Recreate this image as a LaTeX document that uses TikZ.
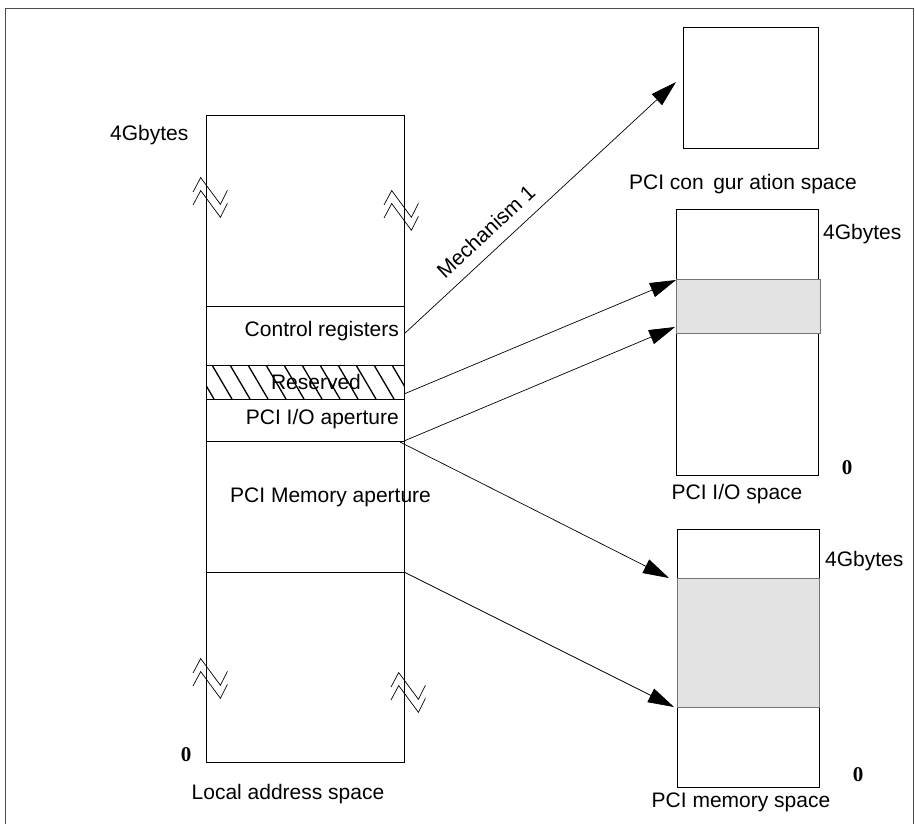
\documentclass[tikz,border=0pt]{standalone}
\usepackage{fontspec}
\setmainfont{Liberation Sans}
\newfontfamily\zerofont{Liberation Serif}
\usetikzlibrary{arrows.meta}

\begin{document}
\begin{tikzpicture}[x=1pt,y=-1pt,
  font=\fontsize{21}{25}\selectfont,
  lbl/.style={inner sep=0pt,text depth=0pt},
  zero/.style={inner sep=0pt,text depth=0pt,font=\fontsize{21}{25}\selectfont\zerofont\bfseries},
  box/.style={draw,line width=0.8pt},
  win/.style={draw=black!55,fill=black!11,line width=0.8pt},
  map/.style={line width=0.7pt,-{Triangle[length=26pt,width=15pt]}},
  brk/.style={line width=0.7pt},
]
\useasboundingbox (0,0) rectangle (915,824);
\draw[line width=0.8pt,black!70] (5,824) -- (5,8) -- (913,8) -- (913,824);

% ---------------- local address space (left) ----------------
\begin{scope}
  \clip (206,365) rectangle (404,399);
  \foreach \x in {176,194,...,410} \draw[line width=1.3pt] (\x,365) -- ++(20,34);
\end{scope}
\draw[box] (206,115) rectangle (404,762);
\draw[box] (206,306) -- (404,306) (206,365) -- (404,365) (206,399) -- (404,399)
  (206,441) -- (404,441) (206,572) -- (404,572);
\foreach \p in {(193,192),(384,205),(193,673),(391,687)}
  \foreach \d in {0,13}
    \draw[brk] \p ++(0,\d) -- ++(7.7,-14.4) -- ++(19.7,26.7) -- ++(7,-14);
\node[lbl,anchor=west] (top4g) at (110,133) {4Gbytes};
\node[lbl,anchor=east] (ctrltxt) at (399,329) {Control registers};
\node[lbl] (resvtxt) at (316,382) {Reserved};
\node[lbl,anchor=east] (iotxt) at (399,417) {PCI I/O aperture};
\node[lbl,anchor=west] (memtxt) at (230,495) {PCI Memory aperture};
\node[zero] (zero1) at (186,755) {0};
\node[lbl] (localname) at (288,792) {Local address space};

% ---------------- PCI spaces (right) ----------------
\draw[box] (683,27) rectangle (818,148);
\node[lbl] (cfgname) at (743,182) {PCI con\hspace{0.45em}gur ation space};

\draw[box] (676,209) rectangle (818,475);
\draw[win] (676,279) rectangle (820,333);
\node[lbl,anchor=west] (io4g) at (823,232) {4Gbytes};
\node[zero] (zero2) at (847,468) {0};
\node[lbl] (ioname) at (737,492) {PCI I/O space};

\draw[box] (677,529) rectangle (819,787);
\draw[win] (677,578) rectangle (819,707);
\node[lbl,anchor=west] (mem4g) at (825,559) {4Gbytes};
\node[zero] (zero3) at (858,775) {0};
\node[lbl] (memname) at (741,800) {PCI memory space};

% ---------------- mappings ----------------
\coordinate (ctrl) at (404,334);
\coordinate (resv) at (404,394);
\coordinate (ioap) at (404,441);
\coordinate (memap) at (400,442);
\coordinate (membot) at (404,572);
\coordinate (cfg) at (676,82);
\coordinate (iotop) at (676,280);
\coordinate (iobot) at (675,327);
\coordinate (memwtop) at (669,578);
\coordinate (memwbot) at (674,707);
\draw[map] (ctrl) -- (cfg) node[lbl,pos=0.35,above=12pt,sloped] (mech) {Mechanism 1};
\draw[map] (resv) -- (iotop);
\draw[map] (ioap) -- (iobot);
\draw[map] (memap) -- (memwtop);
\draw[map] (membot) -- (memwbot);
\end{tikzpicture}
\end{document}
